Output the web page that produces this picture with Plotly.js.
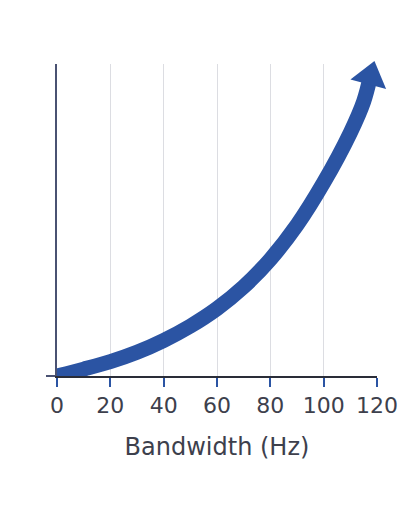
<!DOCTYPE html>
<html>
<head>
<meta charset="utf-8">
<script src="https://cdn.plot.ly/plotly-3.0.1.min.js"></script>
<style>html,body{margin:0;padding:0;background:#fff}#chart{width:410px;height:512px}</style>
</head>
<body>
<div id="chart"></div>
<script>
var bandwidthHz = [0, 10, 20, 30, 40, 50, 60, 70, 80, 90, 100, 110, 115, 117.5];
var response = [0, 2.2, 4.6, 7.6, 11.4, 16.0, 21.6, 28.6, 37.4, 48.4, 62.0, 78.0, 88.0, 96.0];
var xTickVals = [0, 20, 40, 60, 80, 100, 120];

var blue = '#2b54a3';
var markerSizes = bandwidthHz.map(function (v, i) { return i === bandwidthHz.length - 1 ? 32 : 0; });

var trace = {
  x: bandwidthHz,
  y: response,
  type: 'scatter',
  mode: 'lines+markers',
  cliponaxis: false,
  line: {color: blue, width: 15, shape: 'spline', smoothing: 1.0},
  marker: {symbol: 'triangle-up', size: markerSizes, color: blue, opacity: 1, angleref: 'previous', line: {width: 0}},
  hoverinfo: 'skip',
  showlegend: false
};

var layout = {
  width: 410,
  height: 512,
  margin: {l: 57, r: 33, t: 64, b: 136},
  paper_bgcolor: '#ffffff',
  plot_bgcolor: '#ffffff',
  font: {family: 'DejaVu Sans, sans-serif', color: '#3d404c', size: 22},
  xaxis: {
    range: [0, 120],
    tickvals: xTickVals,
    ticktext: xTickVals.map(String),
    ticks: 'outside',
    ticklen: 9,
    tickwidth: 2,
    tickcolor: blue,
    showline: true,
    linecolor: '#2a2d38',
    linewidth: 2,
    showgrid: true,
    gridcolor: '#dcdde2',
    gridwidth: 1,
    zeroline: false,
    tickfont: {size: 22, color: '#3d404c'},
    title: {text: 'Bandwidth (Hz)', font: {size: 24, color: '#3d404c'}, standoff: 21}
  },
  yaxis: {
    range: [0, 100],
    tickvals: [0],
    showticklabels: false,
    ticks: 'outside',
    ticklen: 9,
    tickwidth: 2,
    tickcolor: '#4a5272',
    showline: true,
    linecolor: '#4a5272',
    linewidth: 2,
    showgrid: false,
    zeroline: false
  }
};

Plotly.newPlot('chart', [trace], layout, {displayModeBar: false, staticPlot: true});
</script>
</body>
</html>
